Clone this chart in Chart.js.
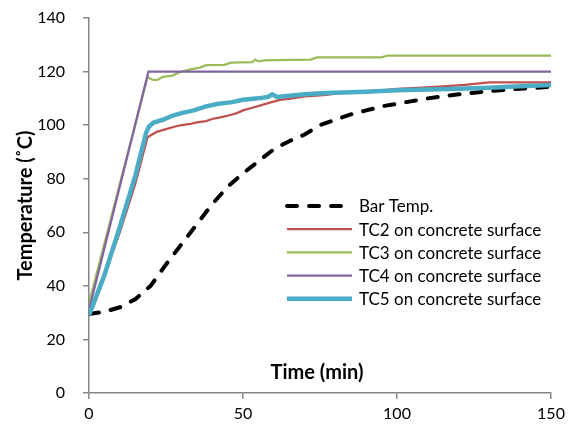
<!DOCTYPE html>
<html>
<head>
<meta charset="utf-8">
<script src="https://cdn.jsdelivr.net/npm/chart.js@4.4.0/dist/chart.umd.min.js"></script>
<style>
  body { margin: 0; background: #fff; }
  #wrap { width: 568px; height: 427px; }
</style>
</head>
<body>
<div id="wrap"><canvas id="tempChart"></canvas></div>
<script>
// Time (min) and temperature (°C) readings for each sensor
const barTime = [0, 5, 10, 15, 20, 25, 30, 35, 40, 45, 50, 55, 60, 65, 70, 75, 80, 85, 90, 95, 100, 110, 120, 130, 140, 150];
const barTemp = [29.5, 30.3, 32, 35, 40, 48, 55.5, 63, 70.5, 77, 82, 86.5, 91, 94, 96.5, 100, 102, 104, 105.5, 107, 108, 110, 111.5, 112.7, 113.6, 114.3];

const tc2Time = [0, 5, 10, 15, 19, 22, 25, 28, 30, 33, 35, 38, 40, 43, 45, 48, 50, 53, 56, 59, 62, 66, 70, 74, 77, 82, 88, 95, 100, 108, 115, 122, 130, 150];
const tc2Temp = [29.5, 44, 60, 78, 95.5, 97.5, 98.5, 99.5, 100, 100.5, 101, 101.5, 102.3, 103, 103.5, 104.5, 105.5, 106.5, 107.5, 108.5, 109.4, 110, 110.7, 111, 111.3, 112, 112.5, 113, 113.5, 114, 114.5, 115, 116, 116];

const tc3Time = [0, 19, 20.5, 22, 24, 27, 30, 33, 36, 38, 44, 46, 53, 54, 55, 57, 60, 72, 74, 95, 97, 150];
const tc3Temp = [33.5, 118, 117, 116.8, 118, 118.5, 120, 120.8, 121.5, 122.4, 122.5, 123.3, 123.5, 124.5, 123.8, 124.2, 124.3, 124.5, 125.3, 125.3, 126, 126];

const tc4Time = [0, 19.3, 150];
const tc4Temp = [31, 120, 120];

const tc5Time = [0, 5, 10, 15, 18.5, 19.5, 21, 24, 27, 30, 34, 38, 42, 46, 50, 55, 58, 59.5, 61, 65, 70, 77, 90, 100, 110, 120, 130, 140, 150];
const tc5Temp = [29, 44, 62, 81, 97, 99.5, 101, 102, 103.5, 104.5, 105.5, 107, 108, 108.5, 109.5, 110, 110.5, 111.5, 110.5, 111, 111.5, 112, 112.5, 113, 113.3, 113.6, 114, 114.5, 115];

const seriesNames = ['Bar Temp.', 'TC2 on concrete surface', 'TC3 on concrete surface', 'TC4 on concrete surface', 'TC5 on concrete surface'];
const xTicks = [0, 50, 100, 150];
const yTicks = [0, 20, 40, 60, 80, 100, 120, 140];

const FONT = 'Lato, "Open Sans", sans-serif';

function pairs(xs, ys) {
  return xs.map((x, i) => ({ x: x, y: ys[i] }));
}

// legend box and x-axis title sit inside the plot area
const insideLabels = {
  id: 'insideLabels',
  afterDraw(chart) {
    const ctx = chart.ctx;
    const area = chart.chartArea;
    ctx.save();
    ctx.font = '17px ' + FONT;
    ctx.textBaseline = 'middle';
    ctx.fillStyle = '#000';
    chart.data.datasets.forEach((ds, i) => {
      const y = 206 + i * 23.2;
      ctx.beginPath();
      ctx.strokeStyle = ds.borderColor;
      ctx.lineWidth = ds.borderWidth;
      ctx.lineCap = ds.borderDash ? 'round' : 'butt';
      ctx.setLineDash(ds.borderDash || []);
      ctx.moveTo(287, y);
      ctx.lineTo(352, y);
      ctx.stroke();
      ctx.setLineDash([]);
      ctx.textAlign = 'left';
      ctx.fillText(ds.label, 359, y + 1);
    });
    ctx.font = 'bold 20px ' + FONT;
    ctx.textAlign = 'center';
    ctx.fillText('Time (min)', (area.left + area.right) / 2 - 3, area.bottom - 20);
    ctx.restore();
  }
};

const datasets = [
  { label: seriesNames[0], data: pairs(barTime, barTemp), borderColor: '#000000', borderWidth: 4, borderDash: [10, 12], borderCapStyle: 'round', order: 4 },
  { label: seriesNames[1], data: pairs(tc2Time, tc2Temp), borderColor: '#c0504d', borderWidth: 2.25, order: 3 },
  { label: seriesNames[2], data: pairs(tc3Time, tc3Temp), borderColor: '#9bbb59', borderWidth: 2.25, order: 2 },
  { label: seriesNames[3], data: pairs(tc4Time, tc4Temp), borderColor: '#8064a2', borderWidth: 2.25, order: 1 },
  { label: seriesNames[4], data: pairs(tc5Time, tc5Temp), borderColor: '#4bacc6', borderWidth: 4.5, order: 0 }
];

const ctx = document.getElementById('tempChart').getContext('2d');
const tempChart = new Chart(ctx, {
  type: 'line',
  data: { datasets: datasets },
  options: {
    responsive: true,
    maintainAspectRatio: false,
    animation: false,
    elements: {
      point: { radius: 0 },
      line: { tension: 0, fill: false }
    },
    layout: { padding: { top: 18, right: 17, left: 0, bottom: 0 } },
    plugins: {
      legend: { display: false },
      tooltip: { enabled: false }
    },
    scales: {
      x: {
        type: 'linear',
        min: 0,
        max: 150,
        afterBuildTicks: scale => { scale.ticks = xTicks.map(v => ({ value: v })); },
        afterFit: scale => {
          scale.height = 34;
          scale.paddingLeft = 0;
          scale.paddingRight = 0;
        },
        ticks: { color: '#000', font: { family: FONT, size: 16 }, padding: 5, maxRotation: 0 },
        grid: { drawOnChartArea: false, color: '#868686', lineWidth: 1.5, tickLength: 6 },
        border: { color: '#868686', width: 1.5 }
      },
      y: {
        min: 0,
        max: 140,
        afterBuildTicks: scale => { scale.ticks = yTicks.map(v => ({ value: v })); },
        afterFit: scale => {
          scale.width = 89;
          scale.paddingTop = 0;
          scale.paddingBottom = 0;
        },
        ticks: { color: '#000', font: { family: FONT, size: 16 }, padding: 18 },
        grid: { drawOnChartArea: false, color: '#868686', lineWidth: 1.5, tickLength: 6 },
        border: { color: '#868686', width: 1.5 },
        title: {
          display: true,
          text: 'Temperature (˚C)',
          color: '#000',
          font: { family: FONT, size: 20, weight: 'bold' },
          padding: { top: 14, bottom: 0 }
        }
      }
    }
  },
  plugins: [insideLabels]
});
</script>
</body>
</html>
